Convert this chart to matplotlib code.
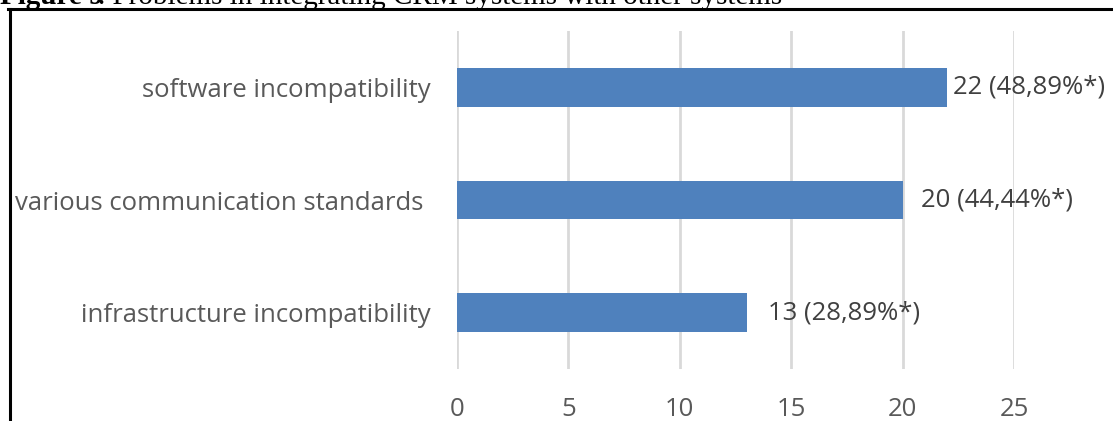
import matplotlib
matplotlib.use("Agg")
import matplotlib.pyplot as plt
from matplotlib.lines import Line2D

categories = ["infrastructure incompatibility", "various communication standards ", "software incompatibility"]
values = [13, 20, 22]
labels = ["13 (28,89%*)", "20 (44,44%*)", "22 (48,89%*)"]
label_offsets = [21, 18, 6]  # pixels
xticks = [0, 5, 10, 15, 20, 25]

W, H = 1113, 421
fig = plt.figure(figsize=(W / 100, H / 100), dpi=100)
ax = fig.add_axes([457 / W, 1 - 369 / H, (1014 - 457) / W, (369 - 31) / H])

font = "Open Sans"
txt = "#595959"
fs = 18.5
ypos = range(len(categories))
ax.barh(ypos, values, height=0.345, color="#4F81BD", zorder=3)
ax.set_xlim(0, 25)
ax.set_ylim(-0.5, len(categories) - 0.5)
ax.set_xticks(xticks)
ax.set_xticklabels([str(t) for t in xticks], fontsize=fs, color=txt, family=font)
ax.set_yticks(list(ypos))
ax.set_yticklabels(categories, fontsize=fs, color=txt, family=font)
ax.tick_params(axis="both", length=0)
ax.tick_params(axis="y", pad=19)
ax.tick_params(axis="x", pad=20)
ax.grid(axis="x", color="#D9D9D9", linewidth=2, zorder=0)
for s in ax.spines.values():
    s.set_visible(False)

for i, (v, lab, off) in enumerate(zip(values, labels, label_offsets)):
    ax.annotate(lab, (v, i), xytext=(off * 0.72, 0), textcoords="offset points",
                va="center", ha="left", fontsize=fs, color="#404040", family=font,
                annotation_clip=False)

# border lines
fig.add_artist(Line2D([8 / W, 1], [1 - 8.5 / H, 1 - 8.5 / H], color="black", lw=2.2,
                      transform=fig.transFigure))
fig.add_artist(Line2D([9.5 / W, 9.5 / W], [1 - 8.5 / H, 0], color="black", lw=2.2,
                      transform=fig.transFigure))

# cut-off title (cut off at the top edge in the reference)
fig.text(0.0, 1 - 4 / H, "Figure 9", fontsize=21, fontweight="bold",
         family="Liberation Serif", va="baseline", ha="left")
fig.text(98 / W, 1 - 4 / H, ". Problems in integrating CRM systems with other systems",
         fontsize=21, family="Liberation Serif", va="baseline", ha="left")

fig.savefig("out.png", dpi=100)
